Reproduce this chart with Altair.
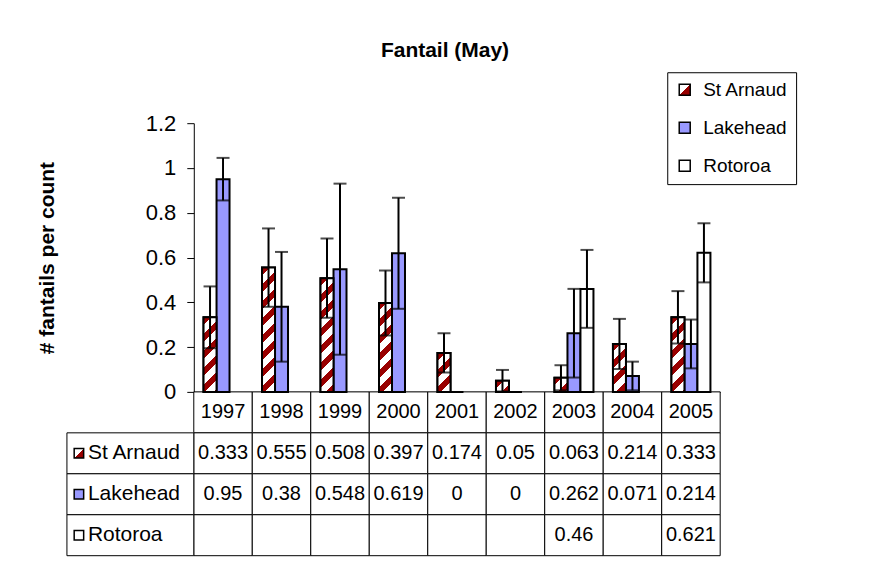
import altair as alt
import pandas as pd

# ---------------- data ----------------
years = ["1997", "1998", "1999", "2000", "2001", "2002", "2003", "2004", "2005"]
series = ["St Arnaud", "Lakehead", "Rotoroa"]
st_arnaud = [0.333, 0.555, 0.508, 0.397, 0.174, 0.05, 0.063, 0.214, 0.333]
lakehead = [0.95, 0.38, 0.548, 0.619, 0, 0, 0.262, 0.071, 0.214]
rotoroa = [None, None, None, None, None, None, 0.46, None, 0.621]
st_arnaud_err = [0.138, 0.175, 0.177, 0.145, 0.088, 0.048, 0.056, 0.112, 0.117]
lakehead_err = [0.095, 0.245, 0.382, 0.248, None, None, 0.198, 0.064, 0.109]
rotoroa_err = [None, None, None, None, None, None, 0.174, None, 0.132]
y_ticks = [0, 0.2, 0.4, 0.6, 0.8, 1.0, 1.2]

values = {"St Arnaud": st_arnaud, "Lakehead": lakehead, "Rotoroa": rotoroa}
errors = {"St Arnaud": st_arnaud_err, "Lakehead": lakehead_err, "Rotoroa": rotoroa_err}

# ---------------- layout / style ----------------
W, H = 527, 269
YMAX = 1.2
TABLE_H = 164     # header row + 3 data rows
LABEL_COL = 127   # width of the row-label column
FONT = "Liberation Sans"
RED = "#990000"
BLUE = "#9999ff"
PERIOD = 17.0     # hatch period (px)
HEADER = "Year"
table_rows = [HEADER] + series

bar_w = W / 9 * (2 / 3) / 3
px_per_unit = H / YMAX


def hatch(v):
    h = max(v * px_per_unit, 0.5)
    L = bar_w + h
    d = bar_w ** 2 + h ** 2
    n = L / PERIOD
    stops = []
    k = 0
    while k < n:
        a = min(k / n, 1.0)
        b = min((k + 0.45) / n, 1.0)
        c = min((k + 1) / n, 1.0)
        stops += [
            {"offset": a, "color": RED},
            {"offset": b, "color": RED},
            {"offset": b, "color": "white"},
            {"offset": c, "color": "white"},
        ]
        k += 1
    return {"gradient": "linear", "x1": 0, "y1": 0,
            "x2": L * bar_w / d, "y2": L * h / d, "stops": stops}


rows = []
for s in series:
    for i, y in enumerate(years):
        rows.append({"year": y, "series": s, "row": s,
                     "value": values[s][i], "err": errors[s][i]})
table_df = pd.DataFrame(rows)
header_df = pd.DataFrame({"year": years, "row": HEADER})
grid_df = pd.concat([header_df, table_df[["year", "row"]]], ignore_index=True)
bars_df = table_df.dropna(subset=["value"]).copy()
hatch_df = bars_df[bars_df["series"] == "St Arnaud"].copy()
hatch_df["hatch"] = [hatch(v) for v in hatch_df["value"]]
err_df = bars_df.dropna(subset=["err"]).copy()
err_df["lo"] = err_df["value"] - err_df["err"]
err_df["hi"] = err_df["value"] + err_df["err"]
text_df = bars_df.copy()
label_df = pd.DataFrame({"series": series, "row": series})

swatch_grad = ("{gradient:'linear',x1:0,y1:0,x2:1,y2:1,stops:["
               "{offset:0,color:'white'},{offset:0.5,color:'white'},"
               "{offset:0.5,color:'" + RED + "'},{offset:1,color:'" + RED + "'}]}")
fill_scale = alt.Scale(domain=series, range=[alt.ExprRef(expr=swatch_grad), BLUE, "white"])

x_bars_scale = alt.Scale(domain=years, paddingInner=1 / 3, paddingOuter=1 / 6)
xoff = alt.XOffset("series:N", scale=alt.Scale(domain=series, paddingInner=0, paddingOuter=0))
y_val_scale = alt.Scale(domain=[0, YMAX], nice=False, zero=True)
y_tab_scale = alt.Scale(domain=table_rows, range=[H, H + TABLE_H],
                        paddingInner=0, paddingOuter=0)
x_tab_scale = alt.Scale(domain=years, paddingInner=0, paddingOuter=0)
x_lab_scale = alt.Scale(domain=[0, 1], range=[-LABEL_COL, 0], nice=False, zero=False)

bars = alt.Chart(bars_df).mark_bar(stroke="black", strokeWidth=2).encode(
    x=alt.X("year:N", scale=x_bars_scale, sort=years,
            axis=alt.Axis(title=None, labels=False, ticks=False, domainColor="black")),
    xOffset=xoff,
    y=alt.Y("value:Q", scale=y_val_scale,
            axis=alt.Axis(values=y_ticks, format="~g", title="# fantails per count",
                          titleFontSize=21, titleFontWeight="bold", titleFont=FONT,
                          titleColor="black", titlePadding=88, labelFontSize=22,
                          labelFont=FONT, labelColor="black", labelPadding=11,
                          tickSize=7, tickColor="black", domainColor="black", grid=False)),
    fill=alt.Fill("series:N", scale=fill_scale,
                  legend=alt.Legend(title=None, orient="none", legendX=474, legendY=-51,
                                    direction="vertical", strokeColor="black",
                                    fillColor="white", padding=8, rowPadding=18,
                                    symbolType="square", symbolSize=121,
                                    symbolStrokeColor="black", symbolStrokeWidth=1.5,
                                    labelFontSize=19, labelFont=FONT, labelColor="black",
                                    labelOffset=9)),
)

hatch_layer = alt.Chart(hatch_df).mark_bar(stroke="black", strokeWidth=2).encode(
    x=alt.X("year:N", scale=x_bars_scale, axis=None),
    xOffset=xoff,
    y=alt.Y("value:Q", scale=y_val_scale, axis=None),
    fill=alt.Fill("hatch:N", scale=None, legend=None),
)

err_rules = alt.Chart(err_df).mark_rule(color="black", strokeWidth=2).encode(
    x=alt.X("year:N", scale=x_bars_scale, axis=None),
    xOffset=xoff,
    y=alt.Y("lo:Q", scale=y_val_scale, axis=None),
    y2="hi:Q",
)

err_caps = alt.Chart(err_df).transform_fold(["lo", "hi"], as_=["end", "yv"]).mark_tick(
    color="black", thickness=2, size=13).encode(
    x=alt.X("year:N", scale=x_bars_scale, axis=None),
    xOffset=xoff,
    y=alt.Y("yv:Q", scale=y_val_scale, axis=None),
)

cells = alt.Chart(grid_df).mark_rect(fill="white", stroke="black", strokeWidth=1).encode(
    x=alt.X("year:N", scale=x_tab_scale, axis=None),
    y=alt.Y("row:N", scale=y_tab_scale, axis=None),
)

header_text = alt.Chart(header_df).mark_text(fontSize=20, font=FONT, color="black").encode(
    x=alt.X("year:N", scale=x_tab_scale, axis=None),
    y=alt.Y("row:N", scale=y_tab_scale, axis=None),
    text="year:N",
)

cell_text = alt.Chart(text_df).mark_text(fontSize=20, font=FONT, color="black").encode(
    x=alt.X("year:N", scale=x_tab_scale, axis=None),
    y=alt.Y("row:N", scale=y_tab_scale, axis=None),
    text=alt.Text("value:Q", format="~g"),
)

label_cells = alt.Chart(label_df).mark_rect(fill="white", stroke="black", strokeWidth=1).encode(
    x=alt.XDatum(0, type="quantitative", scale=x_lab_scale, axis=None),
    x2=alt.X2Datum(1),
    y=alt.Y("row:N", scale=y_tab_scale, axis=None),
)

label_swatch = alt.Chart(label_df).mark_square(size=90, stroke="black", strokeWidth=1.5,
                                               opacity=1).encode(
    x=alt.XDatum(12 / LABEL_COL, type="quantitative", scale=x_lab_scale, axis=None),
    y=alt.Y("row:N", scale=y_tab_scale, axis=None),
    fill=alt.Fill("series:N", scale=fill_scale),
)

label_text = alt.Chart(label_df).mark_text(fontSize=21, font=FONT, color="black",
                                           align="left", dx=21).encode(
    x=alt.XDatum(0, type="quantitative", scale=x_lab_scale, axis=None),
    y=alt.Y("row:N", scale=y_tab_scale, axis=None),
    text="series:N",
)

chart = alt.layer(
    cells, header_text, cell_text, label_cells, label_swatch, label_text,
    bars, hatch_layer, err_rules, err_caps,
).resolve_scale(
    x="independent", y="independent"
).properties(
    width=W, height=H,
    title=alt.TitleParams("Fantail (May)", fontSize=21, fontWeight="bold", font=FONT,
                          color="black", anchor="middle", frame="group", dx=-12, dy=-7),
    autosize=alt.AutoSizeParams(type="none"),
    padding={"left": 186, "top": 115, "right": 160, "bottom": 170},
).configure(font=FONT, view=alt.ViewConfig(stroke=None))

chart.save("out.html", embed_options={"renderer": "svg", "actions": False})
